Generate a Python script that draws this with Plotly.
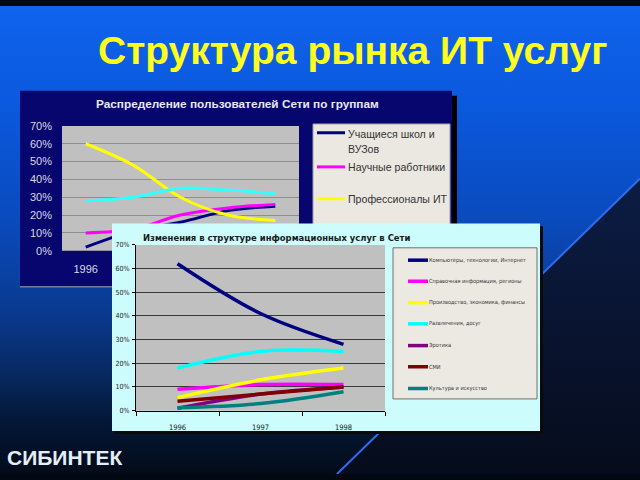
import plotly.graph_objects as go

W, H = 640, 480

# ---------------- data ----------------
# Chart 1: "Распределение пользователей Сети по группам"
years1 = ["1996", "1997", "1998", "1999", "2000"]
students = [2, 11, 16, 22.5, 25]
scientists = [10, 12, 20, 24, 26]
it_pros = [60, 48, 30, 20, 17]
others1 = [28, 30, 35, 34, 32]
series1 = [students, scientists, it_pros, others1]
names1 = ["Учащиеся школ и ВУЗов", "Научные работники", "Профессионалы ИТ", "Прочие"]
colors1 = ["#000080", "#ff00ff", "#ffff00", "#33ffff"]
legend1_lines = [["Учащиеся школ и", "ВУЗов"], ["Научные работники"], ["Профессионалы ИТ"]]

# Chart 2: "Изменения в структуре информационных услуг в Сети"
years2 = ["1996", "1997", "1998"]
computers = [62, 41, 28]
reference_info = [9, 11, 11]
business = [5.5, 13, 18]
leisure = [18, 25, 25]
erotica = [1, 7, 10]
media = [4, 7, 10]
culture = [1.2, 3, 8]
series2 = [computers, reference_info, business, leisure, erotica, media, culture]
names2 = ["Компьютеры, технологии, Интернет", "Справочная информация, регионы",
          "Производство, экономика, финансы", "Развлечения, досуг", "Эротика", "СМИ",
          "Культура и искусство"]
colors2 = ["#000080", "#ff00ff", "#ffff00", "#00ffff", "#800080", "#800000", "#008080"]

# ---------------- layout constants (pixels) ----------------
P1 = (62, 123, 299, 251)     # chart 1 plot area x0,y0,x1,y1
P2 = (136, 245, 385, 415)    # chart 2 plot area
NARROW = "Liberation Sans Narrow, DejaVu Sans Condensed, Arial Narrow, Liberation Sans, sans-serif"
SANS = "Liberation Sans, Arial, sans-serif"

traces = {"": [], "2": [], "3": [], "4": []}


def rect(x0, y0, x1, y1, color, ax="", grad=None, line=None):
    tr = dict(x=[x0, x1, x1, x0, x0], y=[y0, y0, y1, y1, y0], mode="lines",
              fill="toself", fillcolor=color, hoverinfo="skip", showlegend=False,
              line=line or dict(width=0, color=color),
              xaxis="x" + ax, yaxis="y" + ax)
    if grad:
        tr["fillgradient"] = dict(type="vertical", colorscale=grad, start=y0, stop=y1)
    traces[ax].append(go.Scatter(**tr))


def poly(xs, ys, color, ax="", grad=None):
    tr = dict(x=xs, y=ys, mode="lines", fill="toself", fillcolor=color,
              hoverinfo="skip", showlegend=False, line=dict(width=0, color=color),
              xaxis="x" + ax, yaxis="y" + ax)
    if grad:
        tr["fillgradient"] = dict(type="vertical", colorscale=grad,
                                  start=min(ys), stop=max(ys))
    traces[ax].append(go.Scatter(**tr))


def seg(x0, y0, x1, y1, color, width, ax=""):
    traces[ax].append(go.Scatter(x=[x0, x1], y=[y0, y1], mode="lines",
                                 line=dict(color=color, width=width), hoverinfo="skip",
                                 showlegend=False, xaxis="x" + ax, yaxis="y" + ax))


# ---------- layer 1 (xy): slide background + chart 1 frame ----------
rect(0, 0, W, H, "#0a4fc8", grad=[[0, "#0f63ec"], [0.2, "#0b59de"], [0.45, "#0a4abc"],
                                  [0.62, "#0a3b94"], [0.75, "#082b68"], [0.86, "#041838"],
                                  [1, "#020812"]])
poly([640, 640, 337, 640], [177, 480, 480, 177], "#0a1838",
     grad=[[0, "#0c1c44"], [1, "#050b1a"]])
seg(337, 480, 640, 177, "#2d6ef0", 2)

rect(452, 92, 457, 288, "#000000")
rect(20, 87, 452, 288, "#06066e")
seg(20, 288, 452, 288, "#a8a8b0", 1)
rect(P1[0], P1[1], P1[2], P1[3], "#c0c0c0")
rect(313, 121, 450, 240, "#ebe8e2", line=dict(width=1, color="#a0a0a0"))
leg1_y = [130, 165, 197.7]
for i, yy in enumerate(leg1_y):
    seg(317, yy, 345, yy, colors1[i], 3)

# ---------- layer 2 (x2y2): chart 1 ----------
for vals, name, col in zip(series1, names1, colors1):
    traces["2"].append(go.Scatter(x=years1, y=vals, name=name, mode="lines",
                                  line=dict(color=col, width=3, shape="spline", smoothing=1),
                                  showlegend=False, hoverinfo="skip", xaxis="x2", yaxis="y2"))

# ---------- layer 3 (x3y3): chart 2 frame ----------
rect(115, 226, 543, 439, "#0a0a0a", ax="3")
rect(112, 223, 540, 436, "#cdfcfc", ax="3")
rect(P2[0], P2[1], P2[2], P2[3], "#c0c0c0", ax="3")
rect(393, 248, 537, 403, "#ece9e3", ax="3", line=dict(width=1, color="#707070"))
leg2_y = [260.7, 282.3, 304.3, 326, 348.3, 370, 392.3]
for i, yy in enumerate(leg2_y):
    seg(408, yy, 428, yy, colors2[i], 3.5, ax="3")

# ---------- layer 4 (x4y4): chart 2 ----------
for vals, name, col in zip(series2, names2, colors2):
    traces["4"].append(go.Scatter(x=years2, y=vals, name=name, mode="lines",
                                  line=dict(color=col, width=3.5, shape="spline", smoothing=1),
                                  showlegend=False, hoverinfo="skip", xaxis="x4", yaxis="y4"))

fig = go.Figure(data=traces[""] + traces["2"] + traces["3"] + traces["4"])

# ---------------- annotations ----------------
ann = []


def text(x, y, s, size, color, family=SANS, weight="normal", xanchor="left"):
    ann.append(dict(x=x, y=y, xref="x", yref="y", text=s, showarrow=False,
                    xanchor=xanchor, yanchor="middle",
                    font=dict(family=family, size=size, color=color, weight=weight)))


text(352, 46, "Структура рынка ИТ услуг", 39, "#ffff1e", weight="bold", xanchor="center")
text(5, 463, "СИБИНТЕК", 21, "#e4eef8", weight="bold")
text(237, 101, "Распределение пользователей Сети по группам", 11.8, "#e8e8f4",
     weight="bold", xanchor="center")
text(346, 131.7, legend1_lines[0][0], 10.6, "#333333")
text(346, 146.5, legend1_lines[0][1], 10.6, "#333333")
text(346, 165, legend1_lines[1][0], 10.6, "#333333")
text(346, 197.7, legend1_lines[2][0], 10.6, "#333333")
text(141, 237, "Изменения в структуре информационных услуг в Сети", 9.4, "#1a1a1a",
     family=NARROW, weight="bold")
for yy, nm in zip(leg2_y, names2):
    text(427, yy, nm, 5.6, "#333333", family=NARROW)

# ---------------- axes ----------------
def dom(p):
    return [p[0] / W, p[2] / W], [1 - p[3] / H, 1 - p[1] / H]


d1x, d1y = dom(P1)
d2x, d2y = dom(P2)
hidden = dict(domain=[0, 1], visible=False, fixedrange=True, showgrid=False, zeroline=False)

fig.update_layout(
    width=W, height=H, margin=dict(l=0, r=0, t=0, b=0, pad=0),
    paper_bgcolor="#020812", plot_bgcolor="rgba(0,0,0,0)",
    showlegend=False, annotations=ann,
    xaxis=dict(hidden, range=[0, W], anchor="y"),
    yaxis=dict(hidden, range=[H, 0], anchor="x"),
    xaxis3=dict(hidden, range=[0, W], anchor="y3"),
    yaxis3=dict(hidden, range=[H, 0], anchor="x3"),
    xaxis2=dict(domain=d1x, anchor="y2", type="category", range=[-0.5, 4.5],
                tickmode="array", tickvals=[years1[0]], ticktext=[years1[0]],
                showgrid=False, zeroline=False, showline=False, ticks="",
                tickfont=dict(family=SANS, size=11, color="#d8d8e4"),
                ticklabelstandoff=10, fixedrange=True),
    yaxis2=dict(domain=d1y, anchor="x2", range=[0, 70], dtick=10, ticksuffix="%",
                showgrid=True, gridcolor="#8e8e8e", gridwidth=1, zeroline=False,
                showline=False, ticks="",
                tickfont=dict(family=SANS, size=11, color="#d8d8e4"),
                ticklabelstandoff=9, fixedrange=True),
    xaxis4=dict(domain=d2x, anchor="y4", type="category", range=[-0.5, 2.5],
                showgrid=False, zeroline=False, showline=True, linecolor="#000000",
                linewidth=1, ticks="outside", ticklen=4, tickcolor="#000000",
                tickson="boundaries",
                tickfont=dict(family=NARROW, size=7.5, color="#222222"),
                ticklabelstandoff=9, fixedrange=True),
    yaxis4=dict(domain=d2y, anchor="x4", range=[0, 70], dtick=10, ticksuffix="%",
                showgrid=True, gridcolor="#3a3a3a", gridwidth=1, zeroline=False,
                showline=True, linecolor="#000000", linewidth=1, ticks="outside",
                ticklen=3, tickcolor="#000000",
                tickfont=dict(family=NARROW, size=7, color="#222222"),
                ticklabelstandoff=1, fixedrange=True),
)

fig.write_html("out.html")
